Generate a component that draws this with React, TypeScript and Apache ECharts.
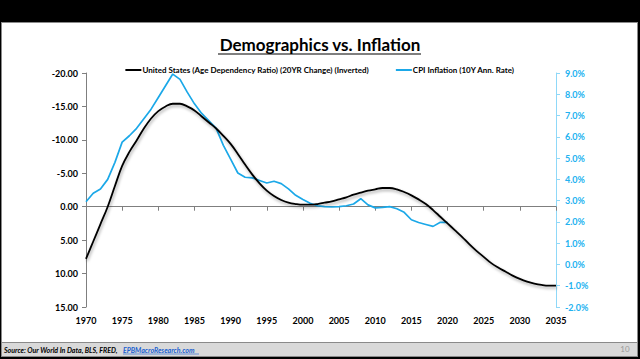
import React, { useEffect, useRef } from "react";
import * as echarts from "echarts";

// US Age Dependency Ratio (20YR change), plotted on an inverted axis, 1970-2035
const depStartYear = 1970;
const depValues = [
  7.8, 5.2, 2.6, 0.0, -3.1, -6.1, -8.2, -9.9, -11.7, -13.2,
  -14.3, -15.0, -15.4, -15.4, -15.0, -14.4, -13.5, -12.6, -11.7, -10.6,
  -9.4, -7.9, -6.3, -4.8, -3.5, -2.4, -1.6, -1.0, -0.6, -0.4,
  -0.3, -0.3, -0.4, -0.6, -0.8, -1.1, -1.4, -1.8, -2.1, -2.4,
  -2.6, -2.8, -2.8, -2.6, -2.2, -1.7, -1.1, -0.4, 0.5, 1.5,
  2.5, 3.5, 4.5, 5.6, 6.6, 7.5, 8.4, 9.1, 9.7, 10.3,
  10.8, 11.2, 11.5, 11.7, 11.8, 11.8,
];

// CPI Inflation (10Y annualised rate, %), 1970-2020
const cpiStartYear = 1970;
const cpiValues = [
  2.95, 3.35, 3.55, 4.0, 4.8, 5.75, 6.05, 6.4, 6.85, 7.3,
  7.85, 8.4, 8.95, 8.7, 8.1, 7.55, 7.1, 6.75, 6.4, 5.6,
  4.95, 4.3, 4.1, 4.07, 3.95, 3.83, 3.91, 3.8, 3.55, 3.25,
  3.05, 2.88, 2.76, 2.72, 2.7, 2.72, 2.76, 2.84, 3.09, 2.8,
  2.66, 2.68, 2.72, 2.62, 2.45, 2.1, 1.97, 1.88, 1.79, 1.98,
  1.98,
];

const depName = "United States (Age Dependency Ratio) (20YR Change) (Inverted)";
const cpiName = "CPI Inflation (10Y Ann. Rate)";
const titleText = "Demographics vs. Inflation";
const sourceText = "Source: Our World In Data, BLS, FRED, ";
const linkText = "EPBMacroResearch.com";
const pageNumber = "10";

const FONT = "Lato, 'Open Sans', sans-serif";
const BLUE = "#1ba8e8";
const BLUE_LABEL = "#22b2f0";

export default function App() {
  const ref = useRef<HTMLDivElement>(null);

  useEffect(() => {
    document.body.style.margin = "0";
    if (!ref.current) return;
    const chart = echarts.init(ref.current, undefined, { renderer: "svg" });

    const depData = depValues.map((v, i) => [depStartYear + i, v]);
    const cpiData = cpiValues.map((v, i) => [cpiStartYear + i, v]);

    chart.setOption({
      animation: false,
      backgroundColor: "#000000",
      graphic: [
        { type: "rect", z: -10, shape: { x: 1, y: 22, width: 637, height: 335 }, style: { fill: "#8a8a8a" } },
        { type: "rect", z: -9, shape: { x: 2, y: 23, width: 635, height: 319 }, style: { fill: "#ffffff" } },
        { type: "rect", z: -9, shape: { x: 2, y: 343, width: 635, height: 13 }, style: { fill: "#d9d9d9" } },
        {
          type: "text",
          x: 320,
          y: 44,
          style: {
            text: titleText,
            fill: "#000",
            font: `bold 17px ${FONT}`,
            textAlign: "center",
            textVerticalAlign: "middle",
          },
        },
        { type: "line", shape: { x1: 218, y1: 54, x2: 421, y2: 54 }, style: { stroke: "#000", lineWidth: 1.2 } },
        {
          type: "text",
          x: 4,
          y: 350,
          style: {
            text: sourceText,
            fill: "#000",
            font: `italic bold 7px ${FONT}`,
            textVerticalAlign: "middle",
          },
        },
        {
          type: "text",
          x: 123,
          y: 350,
          style: {
            text: linkText,
            fill: "#1a5fd0",
            font: `italic bold 7px ${FONT}`,
            textVerticalAlign: "middle",
          },
        },
        { type: "line", shape: { x1: 123, y1: 354, x2: 199, y2: 354 }, style: { stroke: "#1a5fd0", lineWidth: 0.6 } },
        {
          type: "text",
          x: 625,
          y: 349,
          style: {
            text: pageNumber,
            fill: "#9a9a9a",
            font: `8px ${FONT}`,
            textAlign: "center",
            textVerticalAlign: "middle",
          },
        },
      ],
      legend: {
        top: 61,
        left: "center",
        selectedMode: false,
        itemGap: 27,
        itemWidth: 16,
        itemHeight: 2,
        textStyle: { fontFamily: FONT, fontSize: 8, fontWeight: "bold", color: "#000", padding: [0, 0, 0, -4] },
        data: [
          { name: depName, icon: "rect", itemStyle: { color: "#000" } },
          { name: cpiName, icon: "rect", itemStyle: { color: BLUE } },
        ],
      },
      grid: { left: 86, right: 84, top: 73, bottom: 52, containLabel: false },
      xAxis: [
        {
          type: "value",
          min: 1970,
          max: 2035,
          interval: 5,
          position: "bottom",
          axisLine: { show: false, onZero: false },
          axisTick: { show: false },
          splitLine: { show: false },
          axisLabel: {
            margin: 9,
            fontFamily: FONT,
            fontSize: 9,
            fontWeight: "bold",
            color: "#000",
            formatter: (v: number) => String(v),
          },
        },
        {
          type: "value",
          min: 1970,
          max: 2035,
          interval: 5,
          position: "bottom",
          axisLine: { show: true, onZero: true, onZeroAxisIndex: 0, lineStyle: { color: "#7f7f7f", width: 1 } },
          axisTick: { show: true, length: 4, lineStyle: { color: "#7f7f7f" } },
          axisLabel: { show: false },
          splitLine: { show: false },
        },
      ],
      yAxis: [
        {
          type: "value",
          inverse: true,
          min: -20,
          max: 15,
          interval: 5,
          position: "left",
          axisLine: { show: true, lineStyle: { color: "#7f7f7f" } },
          axisTick: { show: true, length: 4, lineStyle: { color: "#7f7f7f" } },
          splitLine: { show: false },
          axisLabel: {
            margin: 8,
            fontFamily: FONT,
            fontSize: 9,
            fontWeight: "bold",
            color: "#000",
            formatter: (v: number) => v.toFixed(2),
          },
        },
        {
          type: "value",
          min: -2,
          max: 9,
          interval: 1,
          position: "right",
          axisLine: { show: true, lineStyle: { color: "#8fd8f8" } },
          axisTick: { show: true, length: 4, lineStyle: { color: "#8fd8f8" } },
          splitLine: { show: false },
          axisLabel: {
            margin: 9,
            fontFamily: FONT,
            fontSize: 9,
            fontWeight: "bold",
            color: BLUE_LABEL,
            formatter: (v: number) => `${v.toFixed(1)}%`,
          },
        },
      ],
      series: [
        {
          name: depName,
          type: "line",
          xAxisIndex: 0,
          yAxisIndex: 0,
          data: depData,
          smooth: 0.4,
          showSymbol: false,
          symbol: "none",
          z: 3,
          lineStyle: {
            color: "#000",
            width: 1.8,
            shadowColor: "rgba(0,0,0,0.35)",
            shadowBlur: 3,
            shadowOffsetX: 1,
            shadowOffsetY: 2,
          },
          itemStyle: { color: "#000" },
        },
        {
          name: cpiName,
          type: "line",
          xAxisIndex: 0,
          yAxisIndex: 1,
          data: cpiData,
          showSymbol: false,
          symbol: "none",
          z: 2,
          lineStyle: { color: BLUE, width: 1.7 },
          itemStyle: { color: BLUE },
        },
      ],
    });

    return () => chart.dispose();
  }, []);

  return (
    <div
      ref={ref}
      style={{ position: "fixed", left: 0, top: 0, width: 640, height: 359 }}
    />
  );
}
